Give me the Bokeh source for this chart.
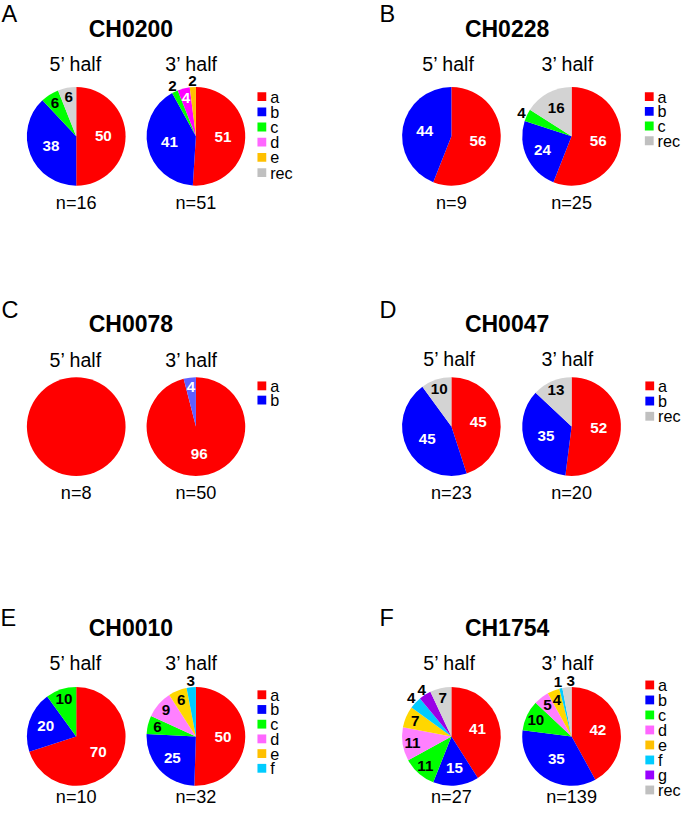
import math
from bokeh.plotting import figure
from bokeh.models import Range1d, ColumnDataSource
from bokeh.embed import file_html
from bokeh.resources import INLINE
from bokeh.core.properties import value

# ---------------- data ----------------
panel_letters = ["A", "B", "C", "D", "E", "F"]
genes = ["CH0200", "CH0228", "CH0078", "CH0047", "CH0010", "CH1754"]
half_labels = ["5\u2019 half", "3\u2019 half"]

cats_A = ["a", "b", "c", "d", "e", "rec"]
pct_A_5 = [50, 38, 6, 0, 0, 6]
pct_A_3 = [51, 41, 2, 4, 2, 0]
n_A = [16, 51]

cats_B = ["a", "b", "c", "rec"]
pct_B_5 = [56, 44, 0, 0]
pct_B_3 = [56, 24, 4, 16]
n_B = [9, 25]

cats_C = ["a", "b"]
pct_C_5 = [100, 0]
pct_C_3 = [96, 4]
n_C = [8, 50]

cats_D = ["a", "b", "rec"]
pct_D_5 = [45, 45, 10]
pct_D_3 = [52, 35, 13]
n_D = [23, 20]

cats_E = ["a", "b", "c", "d", "e", "f"]
pct_E_5 = [70, 20, 10, 0, 0, 0]
pct_E_3 = [50, 25, 6, 9, 6, 3]
n_E = [10, 32]

cats_F = ["a", "b", "c", "d", "e", "f", "g", "rec"]
pct_F_5 = [41, 15, 11, 11, 7, 4, 4, 7]
pct_F_3 = [42, 35, 10, 5, 4, 1, 0, 3]
n_F = [27, 139]

PANELS = [
    (cats_A, pct_A_5, pct_A_3, n_A),
    (cats_B, pct_B_5, pct_B_3, n_B),
    (cats_C, pct_C_5, pct_C_3, n_C),
    (cats_D, pct_D_5, pct_D_3, n_D),
    (cats_E, pct_E_5, pct_E_3, n_E),
    (cats_F, pct_F_5, pct_F_3, n_F),
]

# ---------------- styles ----------------
PIE_COLORS = {"a": "#FF0000", "b": "#0000FF", "c": "#00FF00", "d": "#FF80FF",
              "e": "#FFD700", "f": "#00CCFF", "g": "#9900E6", "rec": "#D3D3D3"}
PIE_OVERRIDE = {"A": {"d": "#FF00FF", "e": "#FFC000"}, "C": {"b": "#5F5FFF"}}
LEG_COLORS = {"a": "#FF0000", "b": "#0000FF", "c": "#00FF00", "d": "#FF66FF",
              "e": "#FFC000", "f": "#00CCFF", "g": "#9900FF", "rec": "#C0C0C0"}
# slices whose label sits outside the pie (panel, half index, category)
OUTSIDE = {("A", 1, "c"), ("A", 1, "e"), ("B", 1, "c"), ("E", 1, "f"),
           ("F", 0, "f"), ("F", 0, "g"), ("F", 1, "f"), ("F", 1, "rec")}
# small horizontal nudges (px) for crowded outside labels
NUDGE = {("F", 1, "f"): -1.5, ("F", 1, "rec"): 4.5}

LAYOUT = {
    "A": dict(letter=(1, 13.5), title=(133.5, 29.5), half_y=64.5, half_x=(77, 195.5),
              pie_y=138.5, pie_x=(77.5, 200), leg_x=267.5, leg_y0=98, leg_dy=15.5, n_y=206),
    "B": dict(letter=(388, 13.5), title=(518.5, 29.5), half_y=64.5, half_x=(458.5, 580.5),
              pie_y=138.5, pie_x=(461.5, 584.5), leg_x=664, leg_y0=98, leg_dy=15, n_y=206),
    "C": dict(letter=(1, 316), title=(133.5, 330), half_y=367, half_x=(77, 195.5),
              pie_y=434.5, pie_x=(77.5, 200), leg_x=267.5, leg_y0=393, leg_dy=14.5, n_y=502.5),
    "D": dict(letter=(388, 316), title=(518.5, 330), half_y=365.5, half_x=(459.5, 580.5),
              pie_y=434.5, pie_x=(461.5, 584.5), leg_x=664.5, leg_y0=393, leg_dy=15.5, n_y=502.5),
    "E": dict(letter=(0, 630), title=(133.5, 640), half_y=675.5, half_x=(77, 195.5),
              pie_y=750.5, pie_x=(77.5, 200), leg_x=267.5, leg_y0=708, leg_dy=15, n_y=812),
    "F": dict(letter=(388, 630), title=(518.5, 640), half_y=675.5, half_x=(459.5, 580.5),
              pie_y=750.5, pie_x=(461.5, 584.5), leg_x=664.5, leg_y0=698, leg_dy=15.3, n_y=812),
}
R = 50.5
W, H = 697, 824
FW, FH = 681, 808
S = FH / H
FONT = value("Liberation Sans")


def fs(px):
    return f"{px * S:.1f}px"


def Y(ry):
    return H - ry


def lum(hexc):
    r, g, b = int(hexc[1:3], 16), int(hexc[3:5], 16), int(hexc[5:7], 16)
    return 0.299 * r + 0.587 * g + 0.114 * b


p = figure(width=FW, height=FH, x_range=Range1d(0, W), y_range=Range1d(0, H),
           x_axis_type=None, y_axis_type=None, output_backend="svg",
           toolbar_location=None, min_border=0)
p.grid.visible = False
p.outline_line_color = None
p.background_fill_color = "white"
p.border_fill_color = "white"

wedges = dict(x=[], y=[], s=[], e=[], c=[])
circles = dict(x=[], y=[], c=[])
squares = dict(x=[], y=[], c=[])
texts = {}


def add_text(key, x, y, t, **style):
    if key not in texts:
        texts[key] = dict(style=style, x=[], y=[], t=[])
    texts[key]["x"].append(x)
    texts[key]["y"].append(Y(y))
    texts[key]["t"].append(t)


for letter, gene, (cats, p5, p3, ns) in zip(panel_letters, genes, PANELS):
    L = LAYOUT[letter]
    add_text("letter", L["letter"][0], L["letter"][1], letter,
             text_font_size=fs(24), text_align="left", text_font_style="normal")
    add_text("title", L["title"][0], L["title"][1], gene,
             text_font_size=fs(23.5), text_align="center", text_font_style="bold")
    for hi, (pcts, n) in enumerate(zip((p5, p3), ns)):
        cx, cy = L["pie_x"][hi], L["pie_y"]
        add_text("half", L["half_x"][hi], L["half_y"], half_labels[hi],
                 text_font_size=fs(20), text_align="center", text_font_style="normal")
        add_text("n", cx, L["n_y"], f"n={n}",
                 text_font_size=fs(18.5), text_align="center", text_font_style="normal")
        total = float(sum(pcts))
        cum = 0.0
        for c, v in zip(cats, pcts):
            if v <= 0:
                continue
            f1, f2 = cum / total, (cum + v) / total
            cum += v
            col = PIE_OVERRIDE.get(letter, {}).get(c, PIE_COLORS[c])
            if f2 - f1 > 0.999:
                circles["x"].append(cx); circles["y"].append(Y(cy)); circles["c"].append(col)
                continue
            wedges["x"].append(cx); wedges["y"].append(Y(cy))
            wedges["s"].append(math.pi / 2 - 2 * math.pi * f2)
            wedges["e"].append(math.pi / 2 - 2 * math.pi * f1)
            wedges["c"].append(col)
            th = 2 * math.pi * (f1 + f2) / 2
            if (letter, hi, c) in OUTSIDE:
                rf, tc = 1.12, "black"
            else:
                rf = 0.55 if v >= 30 else (0.65 if v >= 15 else 0.8)
                tc = "white" if lum(col) < 130 else "black"
            lx = cx + R * rf * math.sin(th) + NUDGE.get((letter, hi, c), 0)
            ly = cy - R * rf * math.cos(th)
            add_text("lab_" + tc, lx, ly, str(v), text_font_size=fs(15.5),
                     text_align="center", text_font_style="bold", text_color=tc)
    # legend
    for i, c in enumerate(cats):
        yy = L["leg_y0"] + i * L["leg_dy"]
        squares["x"].append(L["leg_x"]); squares["y"].append(Y(yy)); squares["c"].append(LEG_COLORS[c])
        add_text("leg", L["leg_x"] + 8.5, yy, c, text_font_size=fs(16.5),
                 text_align="left", text_font_style="normal")

p.rect(x="x", y="y", width=9, height=9, fill_color="c", line_color=None,
       source=ColumnDataSource(squares))
p.wedge(x="x", y="y", radius=R, start_angle="s", end_angle="e", fill_color="c",
        line_color=None, direction="anticlock", source=ColumnDataSource(wedges))
if circles["x"]:
    p.circle(x="x", y="y", radius=R, fill_color="c", line_color=None,
             source=ColumnDataSource(circles))

for key, d in texts.items():
    st = dict(d["style"])
    tc = st.pop("text_color", "black")
    p.text(x="x", y="y", text="t", source=ColumnDataSource(dict(x=d["x"], y=d["y"], t=d["t"])),
           text_font=FONT, text_baseline="middle", text_color=tc, **st)

open("out.html", "w").write(file_html(p, INLINE))
